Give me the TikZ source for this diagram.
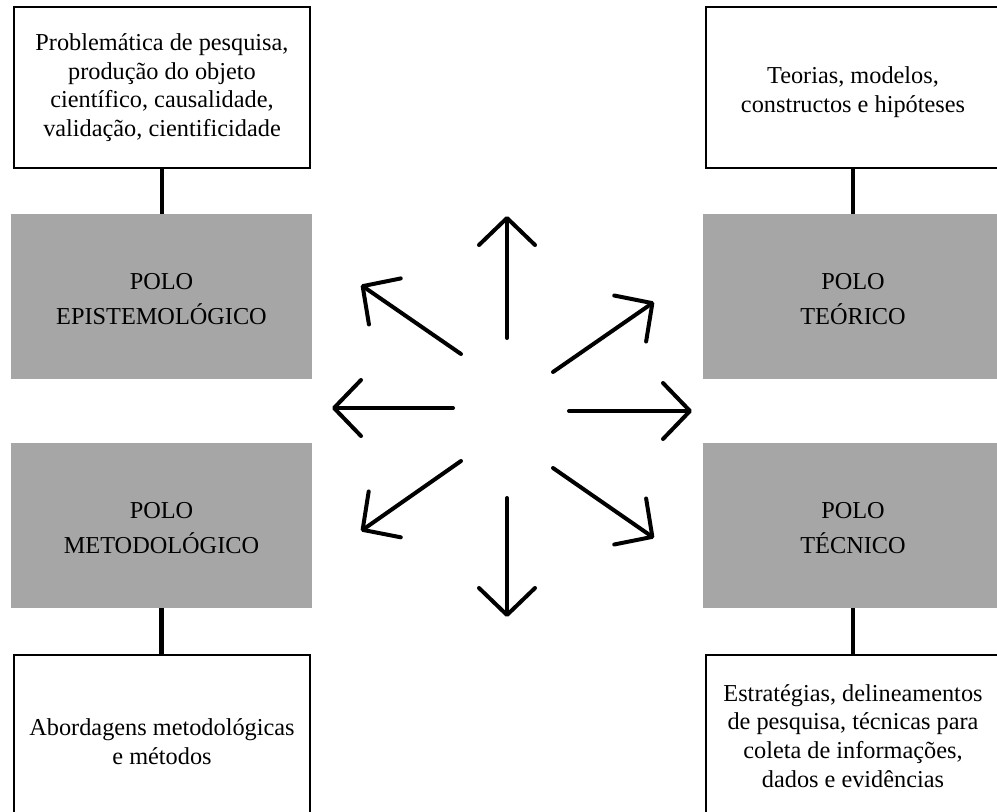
\documentclass[tikz,border=0pt]{standalone}
\usepackage{fontspec}
\setmainfont{Liberation Serif}
\usetikzlibrary{arrows.meta}
\definecolor{polo}{RGB}{166,166,166}
\tikzset{
  txtbox/.style={draw=black, line width=2pt, fill=white, align=center, inner sep=0pt,
    font=\fontsize{24.3}{28.7}\selectfont},
  boxtext/.style={align=center, inner sep=0pt, font=\fontsize{24.3}{28.7}\selectfont},
  polobox/.style={fill=polo, draw=none, inner sep=0pt,
    minimum width=301pt, minimum height=165pt},
  polotext/.style={align=center, inner sep=0pt, font=\fontsize{24.3}{34.5}\selectfont},
  link/.style={line width=4.6pt},
  ray/.style={line width=4pt, line cap=round,
    -{Straight Barb[length=27pt, width=56pt, line cap=round, line join=round]}}
}
\begin{document}
\begin{tikzpicture}[x=1pt, y=-1pt]
\useasboundingbox (0,0) rectangle (997,812);
% white boxes
\node[txtbox, minimum width=296pt, minimum height=161pt] (epiT) at (162,87.5)
  {Problemática de pesquisa,\\produção do objeto\\científico, causalidade,\\validação, cientificidade};
\node[txtbox, minimum width=294pt, minimum height=161pt] (teoT) at (853,87.5) {};
\node[boxtext] (teoTx) at ([yshift=-5pt]teoT.center) {Teorias, modelos,\\constructos e hipóteses};
\node[txtbox, minimum width=296pt, minimum height=174pt] (metT) at (162,742)
  {Abordagens metodológicas\\e métodos};
\node[txtbox, minimum width=294pt, minimum height=162pt] (tecT) at (853,736)
  {Estratégias, delineamentos\\de pesquisa, técnicas para\\coleta de informações,\\dados e evidências};
% grey poles
\node[polobox] (epi) at (161.5,296.5) {};
\node[polobox] (met) at (161.5,525.5) {};
\node[polobox, minimum width=300pt] (teo) at (853,296.5) {};
\node[polobox, minimum width=300pt] (tec) at (853,525.5) {};
\node[polotext] (epiX) at ([yshift=-2.5pt]epi.center) {POLO\\EPISTEMOLÓGICO};
\node[polotext] (metX) at ([yshift=-2.5pt]met.center) {POLO\\METODOLÓGICO};
\node[polotext] (teoX) at ([yshift=-2.5pt]teo.center) {POLO\\TEÓRICO};
\node[polotext] (tecX) at ([yshift=-2.5pt]tec.center) {POLO\\TÉCNICO};
% links
\draw[link] (epiT.south) -- (epiT.south |- epi.north);
\draw[link] (met.south) -- (met.south |- metT.north);
\draw[link] (teoT.south) -- (teoT.south |- teo.north);
\draw[link] (tec.south) -- (tec.south |- tecT.north);
% star of arrows
\coordinate (uS) at (507,338); \coordinate (uE) at (507,216);
\coordinate (ulS) at (461,354); \coordinate (ulE) at (361,285);
\coordinate (lS) at (453,408); \coordinate (lE) at (332,408);
\coordinate (dlS) at (461,461); \coordinate (dlE) at (361,531);
\coordinate (dS) at (507,498); \coordinate (dE) at (507,617);
\coordinate (drS) at (553,468); \coordinate (drE) at (654,538);
\coordinate (rS) at (569,411); \coordinate (rE) at (692,411);
\coordinate (urS) at (553,372); \coordinate (urE) at (654,302);
\draw[ray] (uS) -- (uE);
\draw[ray] (ulS) -- (ulE);
\draw[ray] (lS) -- (lE);
\draw[ray] (dlS) -- (dlE);
\draw[ray] (dS) -- (dE);
\draw[ray] (drS) -- (drE);
\draw[ray] (rS) -- (rE);
\draw[ray] (urS) -- (urE);
\end{tikzpicture}
\end{document}
